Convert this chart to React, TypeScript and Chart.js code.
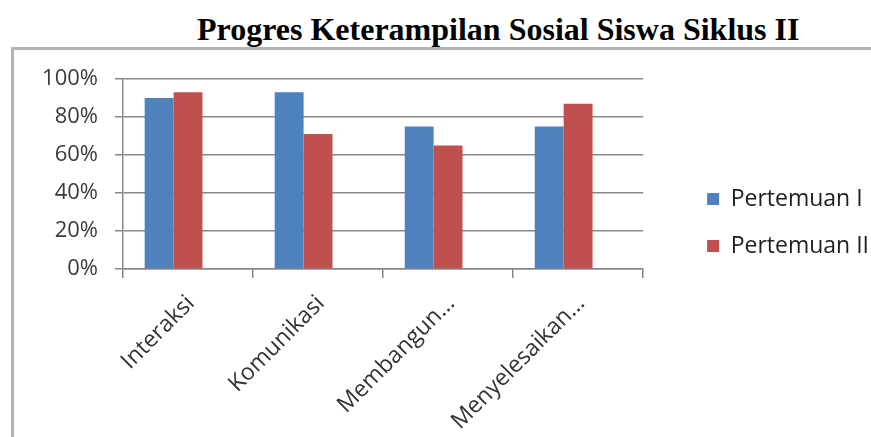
import React, { useEffect, useRef } from 'react';
import { Chart, registerables } from 'chart.js';

Chart.register(...registerables);

const chartTitle = 'Progres Keterampilan Sosial Siswa Siklus II';
const categories = ['Interaksi', 'Komunikasi', 'Membangun...', 'Menyelesaikan...'];
const seriesNames = ['Pertemuan I', 'Pertemuan II', ''];
const pertemuanI = [0.9, 0.93, 0.75, 0.75];
const pertemuanII = [0.93, 0.71, 0.65, 0.87];
// the source chart keeps an empty third series slot (it shifts the bar pairs left)
const emptySeries = [null, null, null, null];
const yMin = 0;
const yMax = 1;
const yStep = 0.2;

const BLUE = '#4F81BD';
const RED = '#C0504D';
const GRID = '#878787';
const FONT = "'Open Sans', 'Noto Sans', sans-serif";

const legendShift = {
  id: 'legendShift',
  afterLayout(chart: any) {
    const l = chart.legend;
    if (l) {
      l.left += 40;
      l.right += 40;
      l.top -= 35.5;
      l.bottom -= 35.5;
    }
  },
};

export default function App() {
  const ref = useRef<HTMLCanvasElement | null>(null);

  useEffect(() => {
    if (!ref.current) return;
    const chart = new Chart(ref.current, {
      type: 'bar',
      data: {
        labels: categories,
        datasets: [
          { label: seriesNames[0], data: pertemuanI, backgroundColor: BLUE, borderWidth: 0 },
          { label: seriesNames[1], data: pertemuanII, backgroundColor: RED, borderWidth: 0 },
          { label: seriesNames[2], data: emptySeries as any, backgroundColor: 'transparent', borderWidth: 0 },
        ],
      },
      options: {
        responsive: false,
        maintainAspectRatio: false,
        animation: false,
        devicePixelRatio: 1,
        datasets: { bar: { categoryPercentage: 0.6667, barPercentage: 1 } },
        layout: { padding: { top: 79, left: 0, right: 32, bottom: 0 } },
        plugins: {
          title: { display: false },
          tooltip: { enabled: false },
          legend: {
            display: true,
            position: 'right',
            labels: {
              boxWidth: 12,
              boxHeight: 12,
              padding: 24,
              color: '#1e1e1e',
              font: { family: FONT, size: 23 },
              filter: (item: any) => item.datasetIndex < 2,
            },
          },
        },
        scales: {
          x: {
            grid: {
              display: true,
              drawOnChartArea: false,
              drawTicks: true,
              tickLength: 9,
              color: GRID,
              lineWidth: 1.5,
              offset: true,
            },
            border: { display: true, color: GRID, width: 1.5 },
            ticks: {
              autoSkip: false,
              maxRotation: 45,
              minRotation: 45,
              padding: 12,
              labelOffset: 3,
              color: '#333',
              font: { family: FONT, size: 23 },
            },
            afterFit: (s: any) => {
              s.height = 168;
            },
          },
          y: {
            min: yMin,
            max: yMax,
            ticks: {
              stepSize: yStep,
              padding: 17,
              color: '#3a3a3a',
              font: { family: FONT, size: 22 },
              callback: (v: any) => Math.round(Number(v) * 100) + '%',
            },
            grid: { color: GRID, lineWidth: 1.5, tickLength: 8, drawTicks: true },
            border: { display: true, color: GRID, width: 1.5 },
            afterFit: (s: any) => {
              s.width = 123;
            },
          },
        },
      },
      plugins: [legendShift],
    });
    return () => chart.destroy();
  }, []);

  return (
    <div
      style={{
        position: 'absolute',
        left: 0,
        top: 0,
        width: 871,
        height: 437,
        overflow: 'hidden',
        background: '#fff',
      }}
    >
      <div
        style={{
          position: 'absolute',
          left: 197,
          top: 13,
          whiteSpace: 'nowrap',
          fontFamily: "'Liberation Serif', 'Times New Roman', serif",
          fontWeight: 'bold',
          fontSize: 32,
          lineHeight: '32px',
          color: '#000',
        }}
      >
        {chartTitle}
      </div>
      <div
        style={{
          position: 'absolute',
          left: 11,
          top: 47,
          width: 900,
          height: 500,
          border: '3px solid #b3b3b3',
          boxSizing: 'border-box',
        }}
      />
      <canvas
        ref={ref}
        width={871}
        height={437}
        style={{ position: 'absolute', left: 0, top: 0, width: 871, height: 437 }}
      />
    </div>
  );
}
